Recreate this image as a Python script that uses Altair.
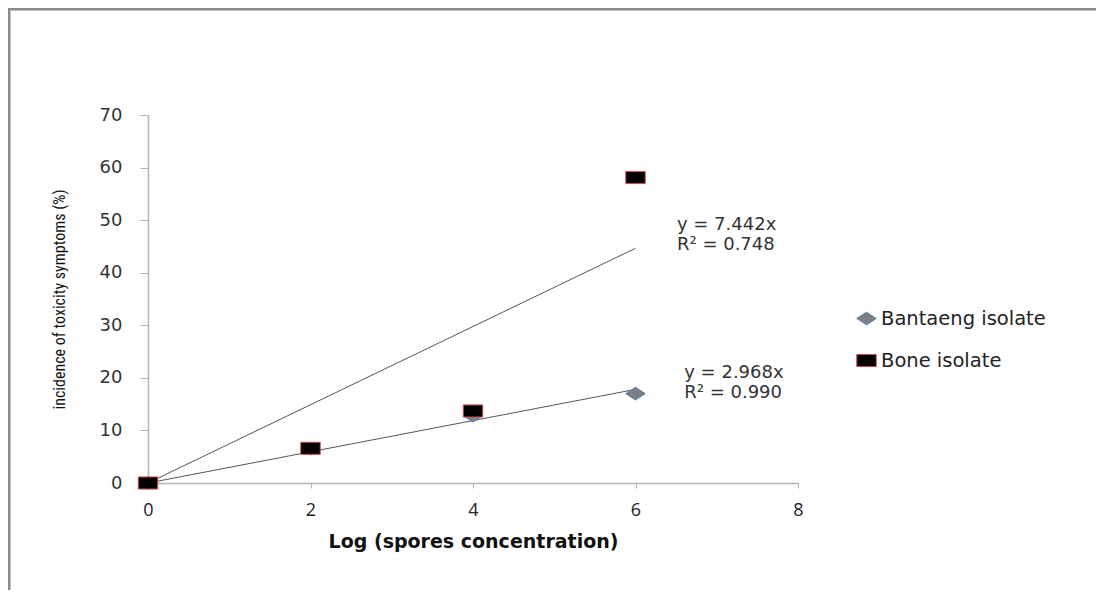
import altair as alt
import pandas as pd

# ---- data ----
x_conc = [0, 2, 4, 6]
bantaeng = [0, 6.5, 12.8, 17.0]
bone = [0, 6.6, 13.7, 58.1]
series_names = ["Bantaeng isolate", "Bone isolate"]
slopes = [2.968, 7.442]
r_squared = ["0.990", "0.748"]
# equation label anchors (data units)
eq_x = [6.6, 6.51]
eq_y_top = [20.9, 49.1]
eq_y_bot = [17.1, 45.3]

pts = pd.DataFrame(
    [{"series": series_names[0], "x": a, "y": b} for a, b in zip(x_conc, bantaeng)]
    + [{"series": series_names[1], "x": a, "y": b} for a, b in zip(x_conc, bone)]
)
trend = pd.DataFrame(
    [{"series": s, "x": xv, "y": xv * m} for s, m in zip(series_names, slopes) for xv in (0, 6)]
)
eqs = pd.DataFrame(
    [{"x": eq_x[i], "y": eq_y_top[i], "t": f"y = {slopes[i]:.3f}x"} for i in range(2)]
    + [{"x": eq_x[i], "y": eq_y_bot[i], "t": f"R² = {r_squared[i]}"} for i in range(2)]
)
frame = pd.DataFrame([{"k": 1}])

W, H = 650, 368
TOTAL_W, TOTAL_H = 1088, 582
xs = alt.Scale(domain=[0, 8], nice=False, zero=True)
ys = alt.Scale(domain=[0, 70], nice=False)

x_axis = alt.Axis(values=[0, 2, 4, 6, 8], format="d", title="Log (spores concentration)", grid=False,
                  domainColor="#b3b3b3", domainWidth=1.5, tickColor="#b3b3b3", tickSize=5,
                  labelFont="Open Sans", labelFontSize=18, labelColor="#222", labelPadding=13,
                  labelFlush=False, labelOverlap=False,
                  titleFont="DejaVu Sans", titleFontSize=19, titleFontWeight="bold", titleColor="#111",
                  titlePadding=13)
y_axis = alt.Axis(values=list(range(0, 71, 10)), format="d", title="incidence of toxicity symptoms (%)",
                  grid=False, labelFlush=False, labelOverlap=False,
                  domainColor="#b3b3b3", domainWidth=1.5, tickColor="#b3b3b3", tickSize=8,
                  labelFont="DejaVu Sans", labelFontSize=18, labelColor="#333", labelPadding=18,
                  titleFont="Liberation Sans Narrow, Roboto Condensed, Liberation Sans", titleFontSize=16,
                  titleFontWeight="normal", titleColor="#111", titlePadding=32)

left_edge = alt.Chart(frame).mark_rule(color="#8a8a8a", strokeWidth=3).encode(
    x=alt.value(-139), y=alt.value(-107), y2=alt.value(900)
)
top_edge = alt.Chart(frame).mark_rule(color="#8a8a8a", strokeWidth=3).encode(
    x=alt.value(-140), x2=alt.value(1300), y=alt.value(-106)
)

lines = alt.Chart(trend).mark_line(color="#555555", strokeWidth=1).encode(
    x=alt.X("x:Q", scale=xs, axis=x_axis),
    y=alt.Y("y:Q", scale=ys, axis=y_axis),
    detail="series:N",
)

diamond = "M-1,0L0,-0.65L1,0L0,0.65Z"
rect = "M-1,-0.62L1,-0.62L1,0.62L-1,0.62Z"

points = alt.Chart(pts).mark_point(filled=True, size=380, strokeWidth=1, opacity=1).encode(
    x=alt.X("x:Q", scale=xs),
    y=alt.Y("y:Q", scale=ys),
    shape=alt.Shape("series:N", scale=alt.Scale(domain=series_names, range=[diamond, rect]),
                    legend=alt.Legend(title=None, orient="none", legendX=708, legendY=193,
                                      labelFont="DejaVu Sans", labelFontSize=19.5, labelColor="#222",
                                      labelOffset=4, labelLimit=400, rowPadding=22, symbolSize=380,
                                      symbolStrokeWidth=1)),
    fill=alt.Fill("series:N", scale=alt.Scale(domain=series_names, range=["#7f7f7f", "#000000"]), legend=None),
    stroke=alt.Stroke("series:N", scale=alt.Scale(domain=series_names, range=["#4f81bd", "#d05050"]), legend=None),
)

labels = alt.Chart(eqs).mark_text(align="left", baseline="middle", font="DejaVu Sans", fontSize=18,
                                  color="#333").encode(
    x=alt.X("x:Q", scale=xs), y=alt.Y("y:Q", scale=ys), text="t:N"
)

chart = alt.layer(left_edge, top_edge, lines, points, labels).properties(
    width=W, height=H,
    autosize=alt.AutoSizeParams(type="none"),
    padding={"left": 140, "top": 107, "right": TOTAL_W - 140 - W, "bottom": TOTAL_H - 107 - H},
).configure(background="white").configure_view(stroke="transparent", strokeWidth=0)

chart.save("out.html", embed_options={"renderer": "svg", "actions": False})
